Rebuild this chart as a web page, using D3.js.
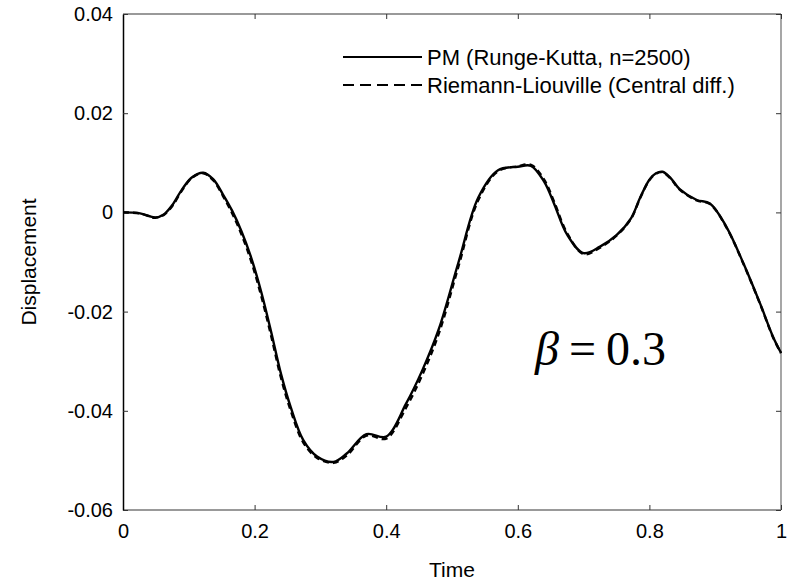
<!DOCTYPE html>
<html>
<head>
<meta charset="utf-8">
<script src="https://cdn.jsdelivr.net/npm/d3@7"></script>
<style>
  body { margin: 0; background: #fff; }
  text { font-family: Arial, "Liberation Sans", sans-serif; }
</style>
</head>
<body>
<div id="chart"></div>
<script>
// time samples
const timeVals = [0, 0.026, 0.049, 0.062, 0.075, 0.09, 0.105, 0.122, 0.137, 0.152, 0.166, 0.18, 0.195, 0.21,
  0.225, 0.24, 0.255, 0.274, 0.295, 0.32, 0.34, 0.37, 0.40, 0.43, 0.455, 0.48, 0.51, 0.54, 0.57, 0.60, 0.62,
  0.64, 0.655, 0.675, 0.70, 0.725, 0.75, 0.772, 0.786, 0.80, 0.81, 0.82, 0.833, 0.846, 0.872, 0.892, 0.917,
  0.943, 0.968, 0.988, 1.0];

// PM (Runge-Kutta, n=2500)
const pmVals = [0, -0.0002, -0.0010, -0.0004, 0.0015, 0.0047, 0.0071, 0.0080, 0.0067, 0.0036, 0.0003, -0.0038,
  -0.0092, -0.0160, -0.0240, -0.0325, -0.0393, -0.0459, -0.0492, -0.0503, -0.0486, -0.0447, -0.0452, -0.0386,
  -0.0318, -0.0235, -0.0100, 0.0030, 0.0085, 0.0092, 0.0094, 0.0062, 0.0018, -0.0045, -0.0082, -0.0069, -0.0046,
  -0.0012, 0.0030, 0.0066, 0.0079, 0.0082, 0.0068, 0.0047, 0.0025, 0.0018, -0.0029, -0.0103, -0.0183, -0.0251,
  -0.0283];

// Riemann-Liouville (Central diff.)
const rlVals = [0, -0.0002, -0.0011, -0.0005, 0.0013, 0.0045, 0.0070, 0.0079, 0.0065, 0.0033, -0.0002, -0.0044,
  -0.0099, -0.0168, -0.0248, -0.0333, -0.0400, -0.0464, -0.0495, -0.0505, -0.0490, -0.0450, -0.0456, -0.0394,
  -0.0327, -0.0244, -0.0108, 0.0025, 0.0083, 0.0093, 0.0096, 0.0066, 0.0022, -0.0042, -0.0084, -0.0071, -0.0047,
  -0.0013, 0.0029, 0.0065, 0.0078, 0.0081, 0.0067, 0.0046, 0.0024, 0.0017, -0.0030, -0.0104, -0.0184, -0.0252,
  -0.0284];

const xTicks = [0, 0.2, 0.4, 0.6, 0.8, 1];
const yTicks = [-0.06, -0.04, -0.02, 0, 0.02, 0.04];
const seriesNames = ["PM (Runge-Kutta, n=2500)", "Riemann-Liouville (Central diff.)"];

const W = 788, H = 582;
const margin = { top: 14, right: 7, bottom: 72, left: 123 };
const width = W - margin.left - margin.right;
const height = H - margin.top - margin.bottom;

const svg = d3.select("#chart").append("svg")
  .attr("width", W)
  .attr("height", H);

const g = svg.append("g")
  .attr("transform", `translate(${margin.left},${margin.top})`);

const x = d3.scaleLinear().domain([0, 1]).range([0, width]);
const y = d3.scaleLinear().domain([-0.06, 0.04]).range([height, 0]);

const fmtY = d => d === 0 ? "0" : d3.format(".2f")(d).replace("−", "-");
const fmtX = d => d === 0 || d === 1 ? String(d) : d3.format(".1f")(d);

// frame
g.append("line").attr("x1", 0).attr("x2", width).attr("y1", 0).attr("y2", 0).attr("stroke", "#777").attr("stroke-width", 1.3);
g.append("line").attr("x1", 0).attr("x2", width).attr("y1", height).attr("y2", height).attr("stroke", "#777").attr("stroke-width", 1.5);
g.append("line").attr("x1", width).attr("x2", width).attr("y1", 0).attr("y2", height).attr("stroke", "#777").attr("stroke-width", 1.3);

// axes with inward ticks
const xAxis = g.append("g")
  .attr("transform", `translate(0,${height})`)
  .call(d3.axisBottom(x).tickValues(xTicks).tickFormat(fmtX).tickSize(-5).tickSizeOuter(0).tickPadding(14));
const xTop = g.append("g")
  .call(d3.axisTop(x).tickValues(xTicks).tickFormat("").tickSize(-5).tickSizeOuter(0));
const yAxis = g.append("g")
  .call(d3.axisLeft(y).tickValues(yTicks).tickFormat(fmtY).tickSize(-5).tickSizeOuter(0).tickPadding(10));
const yRight = g.append("g")
  .attr("transform", `translate(${width},0)`)
  .call(d3.axisRight(y).tickValues(yTicks).tickFormat("").tickSize(-5).tickSizeOuter(0));

[xAxis, xTop, yRight].forEach(a => a.select(".domain").remove());
yAxis.select(".domain").attr("stroke", "#000").attr("stroke-width", 1.5);
[xAxis, xTop, yAxis, yRight].forEach(a => {
  a.selectAll(".tick line").attr("stroke", "#333").attr("stroke-width", 1);
  a.selectAll(".tick text")
    .attr("fill", "#000")
    .style("font-size", "20px")
    .style("font-family", "Arial, 'Liberation Sans', sans-serif");
});

// curves
const line = d3.line()
  .x(d => x(d[0]))
  .y(d => y(d[1]))
  .curve(d3.curveCatmullRom.alpha(0.5));

g.append("path")
  .datum(timeVals.map((t, i) => [t, rlVals[i]]))
  .attr("d", line)
  .attr("fill", "none")
  .attr("stroke", "#000")
  .attr("stroke-width", 2.4)
  .attr("stroke-dasharray", "6,4");

g.append("path")
  .datum(timeVals.map((t, i) => [t, pmVals[i]]))
  .attr("d", line)
  .attr("fill", "none")
  .attr("stroke", "#000")
  .attr("stroke-width", 2.4);

// legend
const legend = g.append("g").attr("transform", "translate(220,43)");
seriesNames.forEach((name, i) => {
  const row = legend.append("g").attr("transform", `translate(0,${i * 28})`);
  row.append("line")
    .attr("x1", 0).attr("x2", 79)
    .attr("stroke", "#000")
    .attr("stroke-width", 2)
    .attr("stroke-dasharray", i === 1 ? "11,6" : null);
  row.append("text")
    .attr("x", 84)
    .attr("y", 8)
    .style("font-size", "22px")
    .text(name);
});

// beta annotation
const beta = g.append("text")
  .attr("x", 412)
  .attr("y", 351)
  .style("font-family", "'Liberation Serif', 'Times New Roman', serif")
  .style("font-size", "48px");
beta.append("tspan").style("font-style", "italic").text("β");
beta.append("tspan").attr("dx", 10).text("=");
beta.append("tspan").attr("dx", 10).text("0.3");

// axis titles
svg.append("text")
  .attr("x", margin.left + width / 2)
  .attr("y", 577)
  .attr("text-anchor", "middle")
  .style("font-size", "21px")
  .text("Time");

svg.append("text")
  .attr("transform", `translate(36,${margin.top + height / 2}) rotate(-90)`)
  .attr("text-anchor", "middle")
  .style("font-size", "21px")
  .text("Displacement");
</script>
</body>
</html>
